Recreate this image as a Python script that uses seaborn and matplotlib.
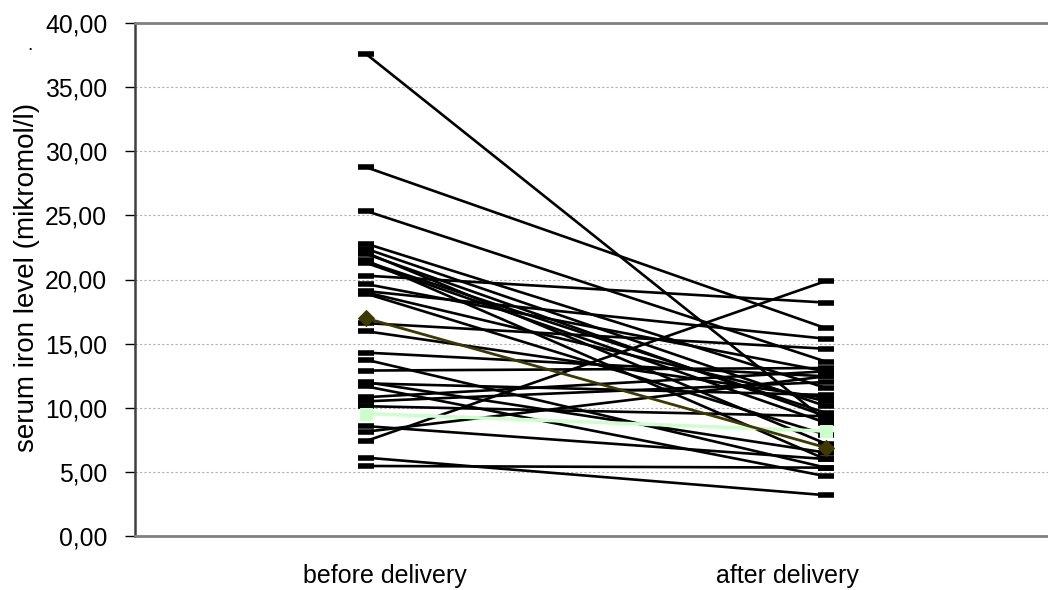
import matplotlib
matplotlib.use("Agg")
import matplotlib.pyplot as plt
import matplotlib.transforms as mtransforms
import seaborn as sns
import pandas as pd

stages = ["before delivery", "after delivery"]

before = [37.6, 28.76, 25.35, 22.8, 22.4, 22.1, 22.0, 21.5, 21.4, 21.3,
          20.3, 19.65, 19.1, 19.0, 18.9, 16.6, 15.97, 14.3, 13.75, 12.9,
          12.0, 11.9, 11.67, 10.82, 10.5, 10.12, 8.57, 8.13, 7.4, 6.11, 5.46]
after = [9.0, 16.2, 13.6, 11.55, 10.12, 7.2, 9.34, 5.98, 9.6, 8.83,
         18.2, 12.84, 15.38, 10.5, 7.9, 14.6, 10.77, 12.45, 5.33, 13.1,
         6.5, 11.0, 4.66, 12.84, 12.0, 9.34, 6.0, 12.45, 19.88, 3.18, 5.33]

olive_series = [16.98, 6.89]
green_series = [9.55, 8.18]
white_series = [9.1, 7.53]

rows = []
for i, (b, a) in enumerate(zip(before, after)):
    rows.append({"subject": i, "stage": stages[0], "value": b})
    rows.append({"subject": i, "stage": stages[1], "value": a})
df = pd.DataFrame(rows)

def pair_df(vals):
    return pd.DataFrame({"stage": stages, "value": vals})

sns.set_style("white")
plt.rcParams["font.family"] = ["Liberation Sans", "DejaVu Sans"]
plt.rcParams["text.color"] = "black"
plt.rcParams["xtick.labelcolor"] = "black"
plt.rcParams["ytick.labelcolor"] = "black"

fig = plt.figure(figsize=(10.48, 5.9), dpi=100)
ax = fig.add_axes([135 / 1048, 1 - 536 / 590, (1048 - 135) / 1048, (536 - 23) / 590])

sns.lineplot(data=pair_df(white_series), x="stage", y="value", ax=ax,
             color="white", lw=1, marker="o", markersize=8,
             markerfacecolor="white", markeredgecolor="white", zorder=2)
sns.lineplot(data=df, x="stage", y="value", units="subject", estimator=None,
             ax=ax, color="black", lw=1.9, marker="_", markersize=11,
             markeredgewidth=4, markeredgecolor="black", zorder=3)
sns.lineplot(data=pair_df(green_series), x="stage", y="value", ax=ax,
             color="#ccffcc", lw=2.5, marker="s", markersize=8,
             markerfacecolor="#ccffcc", markeredgecolor="#ccffcc", zorder=4)
sns.lineplot(data=pair_df(olive_series), x="stage", y="value", ax=ax,
             color="#3c3a00", lw=2, marker="D", markersize=8,
             markerfacecolor="#3c3a00", markeredgecolor="#3c3a00", zorder=5)

ax.set_xlim(-0.502, 1.483)
ax.set_ylim(0, 40)
ax.set_yticks([0, 5, 10, 15, 20, 25, 30, 35, 40])
ax.set_yticklabels([f"{v:.2f}".replace(".", ",") for v in range(0, 45, 5)])
ax.yaxis.grid(True, color="#b0b0b0", ls=(0, (2, 2)), lw=0.8)
ax.set_axisbelow(True)

for s in ["top", "bottom"]:
    ax.spines[s].set_color("#808080")
    ax.spines[s].set_linewidth(2)
ax.spines["left"].set_color("#404040")
ax.spines["left"].set_linewidth(1.8)
ax.spines["right"].set_visible(False)

ax.tick_params(axis="y", direction="out", length=7, width=1, color="black",
               labelsize=17.8, pad=13, left=True)
ax.tick_params(axis="x", length=0, labelsize=18, pad=20)
ax.set_xlabel("")
ax.set_ylabel("")

# shift category labels horizontally as in the reference
offsets_px = [19, -38]
for lab, dx in zip(ax.get_xticklabels(), offsets_px):
    lab.set_transform(lab.get_transform() +
                      mtransforms.ScaledTranslation(dx / 100, 0, fig.dpi_scale_trans))

fig.text(27 / 1048, 1 - 277 / 590, "serum iron level (mikromol/l)",
         fontsize=20, rotation=90, ha="center", va="center")
fig.text(30 / 1048, 1 - 45 / 590, ".", fontsize=14, ha="center", va="center")

fig.savefig("out.png", dpi=100)
